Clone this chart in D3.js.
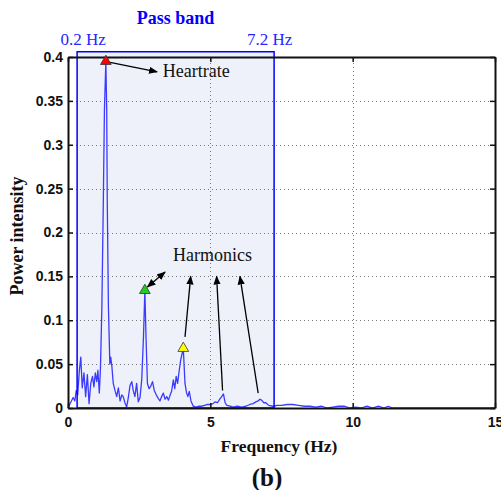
<!DOCTYPE html>
<html>
<head>
<meta charset="utf-8">
<script src="https://cdn.jsdelivr.net/npm/d3@7"></script>
<style>
  body { margin: 0; background: #fff; }
  svg { display: block; }
</style>
</head>
<body>
<svg id="chart" width="501" height="490"></svg>
<script>
// spectrum (Hz, power)
const freq = [
  0.00, 0.06, 0.12, 0.18, 0.24, 0.29, 0.34, 0.40, 0.45, 0.50, 0.56, 0.62, 0.68, 0.74, 0.80, 0.86, 0.91, 0.96, 1.01, 1.05,
  1.10, 1.14, 1.19, 1.24, 1.28, 1.33, 1.36, 1.38, 1.42, 1.47, 1.50, 1.54, 1.59, 1.65, 1.71, 1.77, 1.83, 1.89, 1.94, 2.00,
  2.06, 2.12, 2.18, 2.24, 2.29, 2.35, 2.41, 2.47, 2.53, 2.59, 2.65, 2.70, 2.74, 2.79, 2.85, 2.91, 2.97, 3.03, 3.10, 3.17,
  3.23, 3.29, 3.35, 3.41, 3.47, 3.53, 3.59, 3.64, 3.70, 3.75, 3.80, 3.85, 3.90, 3.96, 4.05, 4.11, 4.16, 4.21, 4.26, 4.32,
  4.40, 4.50, 4.60, 4.70, 4.80, 4.90, 5.00, 5.10, 5.16, 5.25, 5.33, 5.40, 5.46, 5.52, 5.58, 5.70, 5.80, 5.95, 6.10, 6.25,
  6.39, 6.50, 6.60, 6.68, 6.74, 6.80, 6.88, 6.95, 7.05, 7.20, 7.35, 7.50, 7.70, 7.90, 8.10, 8.30, 8.50, 8.70, 8.90, 9.10,
  9.30, 9.50, 9.70, 9.90, 10.10, 10.30, 10.50, 10.70, 10.90, 11.10, 11.25, 11.40, 12.0, 13.0, 14.0, 15.0
];
const power = [
  0.000, 0.004, 0.008, 0.012, 0.008, 0.020, 0.015, 0.043, 0.058, 0.023, 0.040, 0.013, 0.038, 0.005, 0.028, 0.036, 0.024, 0.040, 0.030, 0.043,
  0.017, 0.045, 0.115, 0.234, 0.340, 0.395, 0.340, 0.234, 0.115, 0.050, 0.058, 0.048, 0.028, 0.020, 0.013, 0.023, 0.008, 0.015, 0.013, 0.006,
  0.001, 0.012, 0.026, 0.030, 0.020, 0.013, 0.028, 0.007, 0.012, 0.032, 0.080, 0.134, 0.081, 0.028, 0.022, 0.025, 0.030, 0.020, 0.015, 0.011,
  0.008, 0.013, 0.017, 0.010, 0.013, 0.009, 0.015, 0.019, 0.032, 0.022, 0.036, 0.028, 0.041, 0.055, 0.068, 0.028, 0.018, 0.013, 0.019, 0.008,
  0.002, 0.001, 0.002, 0.002, 0.003, 0.004, 0.004, 0.005, 0.007, 0.006, 0.010, 0.013, 0.016, 0.006, 0.003, 0.002, 0.001, 0.002, 0.001, 0.002,
  0.004, 0.005, 0.007, 0.008, 0.010, 0.009, 0.006, 0.006, 0.003, 0.002, 0.003, 0.003, 0.004, 0.004, 0.003, 0.002, 0.002, 0.001, 0.002, 0.000,
  0.001, 0.002, 0.002, 0.000, 0.001, 0.000, 0.002, 0.000, 0.002, 0.000, 0.002, 0.000, 0.000, 0.000, 0.000, 0.000
];

const xTicks = [0, 5, 10, 15];
const yTicks = [0, 0.05, 0.1, 0.15, 0.2, 0.25, 0.3, 0.35, 0.4];
const yTickLabels = ["0", "0.05", "0.1", "0.15", "0.2", "0.25", "0.3", "0.35", "0.4"];

// pass band box (edges as drawn) and its labels
const bandEdges = [0.32, 7.24];
const bandTop = 0.406;
const bandLabels = ["0.2 Hz", "7.2 Hz"];
const bandLabelAt = [0.53, 7.08];

// marked peaks
const peakFreq = [1.33, 2.70, 4.05];
const peakPower = [0.395, 0.134, 0.068];
const peakColors = ["#ff0000", "#22cc22", "#ffff00"];

// harmonic arrows [from f, from p, to f, to p]
const harmonicArrows = [
  [2.79, 0.138, 3.41, 0.155],
  [4.11, 0.081, 4.31, 0.150],
  [5.43, 0.020, 5.22, 0.150],
  [6.68, 0.017, 6.04, 0.150]
];
const heartArrow = [1.48, 0.394, 3.13, 0.383];

const svg = d3.select("#chart");
const margin = { top: 57, right: 6, bottom: 82, left: 68 };
const W = 501, H = 490;

const x = d3.scaleLinear().domain([0, 15]).range([margin.left, W - margin.right]);
const y = d3.scaleLinear().domain([0, 0.4]).range([H - margin.bottom, margin.top]);

const defs = svg.append("defs");
defs.append("marker")
  .attr("id", "head")
  .attr("viewBox", "0 0 10 10")
  .attr("refX", 9).attr("refY", 5)
  .attr("markerWidth", 9).attr("markerHeight", 9)
  .attr("markerUnits", "userSpaceOnUse")
  .attr("orient", "auto-start-reverse")
  .append("path").attr("d", "M0,1 L10,5 L0,9 z").attr("fill", "#000");

// pass band rectangle
svg.append("rect")
  .attr("x", x(bandEdges[0]))
  .attr("y", y(bandTop))
  .attr("width", x(bandEdges[1]) - x(bandEdges[0]))
  .attr("height", y(0) - y(bandTop))
  .attr("fill", "#eef0fa");

// dotted grid
const grid = svg.append("g").attr("stroke", "#777").attr("stroke-width", 1).attr("stroke-dasharray", "1,3");
grid.selectAll(".gy").data(yTicks.filter(d => d > 0 && d < 0.4)).join("line")
  .attr("x1", x(0)).attr("x2", x(15))
  .attr("y1", d => Math.round(y(d)) + 0.5).attr("y2", d => Math.round(y(d)) + 0.5);
grid.selectAll(".gx").data(xTicks.filter(d => d > 0 && d < 15)).join("line")
  .attr("x1", d => Math.round(x(d)) + 0.5).attr("x2", d => Math.round(x(d)) + 0.5)
  .attr("y1", y(0)).attr("y2", y(0.4));

// spectrum
const pts = freq.map((f, i) => [f, power[i]]);
svg.append("path")
  .datum(pts)
  .attr("fill", "none")
  .attr("stroke", "#3b3bff")
  .attr("stroke-width", 1.3)
  .attr("stroke-linejoin", "round")
  .attr("d", d3.line().x(d => x(d[0])).y(d => y(d[1])));

// pass band outline
svg.append("rect")
  .attr("x", x(bandEdges[0]))
  .attr("y", y(bandTop))
  .attr("width", x(bandEdges[1]) - x(bandEdges[0]))
  .attr("height", y(0) - y(bandTop))
  .attr("fill", "none")
  .attr("stroke", "#0000ff")
  .attr("stroke-width", 1.5);

// axes box + ticks
const axes = svg.append("g");
axes.append("g").attr("transform", `translate(0,${y(0)})`)
  .call(d3.axisBottom(x).tickValues(xTicks).tickSizeInner(-5).tickSizeOuter(0).tickPadding(9));
axes.append("g").attr("transform", `translate(${x(0)},0)`)
  .call(d3.axisLeft(y).tickValues(yTicks).tickFormat((d, i) => yTickLabels[i]).tickSizeInner(-5).tickSizeOuter(0).tickPadding(5));
axes.append("g").attr("transform", `translate(0,${y(0.4)})`)
  .call(d3.axisTop(x).tickValues(xTicks).tickSizeInner(-5).tickSizeOuter(0).tickFormat(""));
axes.append("g").attr("transform", `translate(${x(15)},0)`)
  .call(d3.axisRight(y).tickValues(yTicks).tickSizeInner(-5).tickSizeOuter(0).tickFormat(""));
axes.selectAll(".domain").attr("stroke", "#111").attr("stroke-width", 2);
axes.selectAll(".tick line").attr("stroke", "#111").attr("stroke-width", 1.5);
axes.selectAll(".tick text")
  .attr("font-family", "'Liberation Sans', Arial, sans-serif")
  .attr("font-weight", "bold")
  .attr("font-size", 14)
  .attr("fill", "#111");

// peak markers
svg.selectAll(".peak").data(peakFreq).join("path")
  .attr("transform", (d, i) => `translate(${x(d)},${y(peakPower[i])})`)
  .attr("d", d3.symbol(d3.symbolTriangle, 50))
  .attr("fill", (d, i) => peakColors[i])
  .attr("stroke", "#333")
  .attr("stroke-width", 0.8);

// arrows
svg.append("line")
  .attr("x1", x(heartArrow[0])).attr("y1", y(heartArrow[1]))
  .attr("x2", x(heartArrow[2])).attr("y2", y(heartArrow[3]))
  .attr("stroke", "#000").attr("stroke-width", 1.3)
  .attr("marker-end", "url(#head)");
svg.selectAll(".harm").data(harmonicArrows).join("line")
  .attr("x1", d => x(d[0])).attr("y1", d => y(d[1]))
  .attr("x2", d => x(d[2])).attr("y2", d => y(d[3]))
  .attr("stroke", "#000").attr("stroke-width", 1.3)
  .attr("marker-end", "url(#head)")
  .attr("marker-start", (d, i) => i === 0 ? "url(#head)" : null);

// annotation text
const serif = "'Liberation Serif', 'Times New Roman', serif";
svg.append("text").attr("x", x(3.33)).attr("y", y(0.377))
  .attr("font-family", serif).attr("font-size", 18).attr("fill", "#111").text("Heartrate");
svg.append("text").attr("x", x(3.69)).attr("y", y(0.168))
  .attr("font-family", serif).attr("font-size", 18).attr("fill", "#111").text("Harmonics");

svg.append("text").attr("x", (x(bandEdges[0]) + x(bandEdges[1])) / 2).attr("y", 24)
  .attr("text-anchor", "middle").attr("font-family", serif).attr("font-weight", "bold")
  .attr("font-size", 18).attr("fill", "#0000ff").text("Pass band");
svg.selectAll(".bandlabel").data(bandLabels).join("text")
  .attr("x", (d, i) => x(bandLabelAt[i])).attr("y", 45)
  .attr("text-anchor", "middle").attr("font-family", serif)
  .attr("font-size", 17).attr("fill", "#2525ff").text(d => d);

// axis titles
svg.append("text").attr("x", 279).attr("y", 452)
  .attr("text-anchor", "middle").attr("font-family", serif).attr("font-weight", "bold")
  .attr("font-size", 17.5).attr("fill", "#111").text("Frequency (Hz)");
svg.append("text").attr("transform", "translate(23,236) rotate(-90)")
  .attr("text-anchor", "middle").attr("font-family", serif).attr("font-weight", "bold")
  .attr("font-size", 18).attr("fill", "#111").text("Power intensity");
svg.append("text").attr("x", 267).attr("y", 486)
  .attr("text-anchor", "middle").attr("font-family", serif).attr("font-weight", "bold")
  .attr("font-size", 25).attr("fill", "#111").text("(b)");
</script>
</body>
</html>
